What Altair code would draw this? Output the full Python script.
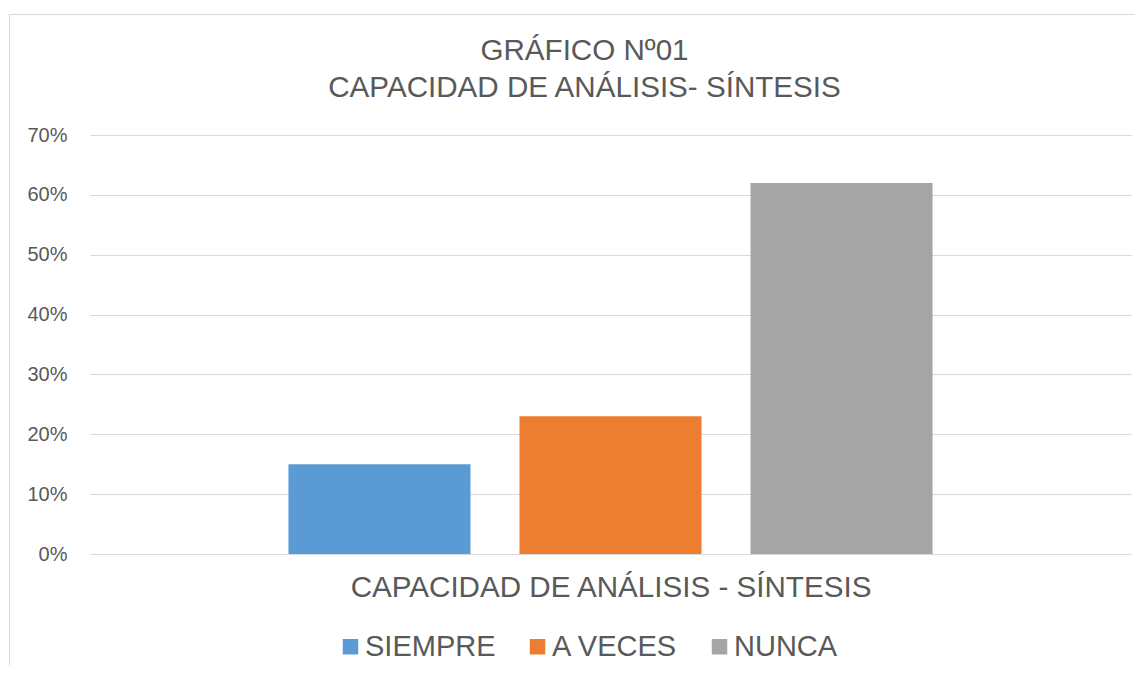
import altair as alt
import pandas as pd

categorias = ["SIEMPRE", "A VECES", "NUNCA"]
valores = [0.15, 0.23, 0.62]
colores = ["#5B9BD5", "#ED7D31", "#A5A5A5"]
ticks_y = [0.0, 0.1, 0.2, 0.3, 0.4, 0.5, 0.6, 0.7]
titulo = ["GRÁFICO Nº01", "CAPACIDAD DE ANÁLISIS- SÍNTESIS"]
titulo_x = "CAPACIDAD DE ANÁLISIS - SÍNTESIS"

df = pd.DataFrame({"serie": categorias, "valor": valores})
one = pd.DataFrame({"k": [0]})

FONT = "Liberation Sans"
TXT = "#595959"
GRID = "#D9D9D9"

bars = alt.Chart(df).mark_bar().encode(
    x=alt.X(
        "serie:N",
        sort=categorias,
        scale=alt.Scale(paddingInner=0.212, paddingOuter=0.859),
        axis=alt.Axis(
            labels=False, ticks=False, domain=False, title=titulo_x,
            titleFontSize=29.6, titleFont=FONT, titleColor=TXT,
            titleFontWeight="normal", titlePadding=19,
        ),
    ),
    y=alt.Y(
        "valor:Q",
        scale=alt.Scale(domain=[0, 0.7]),
        axis=alt.Axis(
            values=ticks_y, format=".0%", title=None, domain=False, ticks=False,
            labelFontSize=20, labelFont=FONT, labelColor=TXT, labelPadding=23,
            gridColor=GRID, gridWidth=1,
        ),
    ),
    color=alt.Color(
        "serie:N",
        sort=categorias,
        scale=alt.Scale(domain=categorias, range=colores),
        legend=alt.Legend(
            orient="none", legendX=246, legendY=497, direction="horizontal",
            title=None, symbolType="square", symbolSize=240, symbolStrokeWidth=0,
            labelFontSize=29, labelFont=FONT, labelColor=TXT, labelOffset=0,
            columnPadding=27, padding=0,
        ),
    ),
)

border_left = alt.Chart(one).mark_rule(color=GRID, strokeWidth=1).encode(
    x=alt.value(-80.5), y=alt.value(-121), y2=alt.value(530)
)
border_top = alt.Chart(one).mark_rule(color=GRID, strokeWidth=1).encode(
    x=alt.value(-81), x2=alt.value(1045), y=alt.value(-120.5)
)

chart = alt.layer(border_left, border_top, bars).properties(
    width=1041,
    height=419,
    padding={"left": 0, "top": 5, "right": 0, "bottom": 0},
    title=alt.Title(
        titulo, fontSize=29.6, font=FONT, color=TXT, fontWeight="normal",
        lineHeight=37, offset=-90, anchor="middle", frame="group", dx=-26,
    ),
).configure_view(stroke=None)

chart.save("out.html", embed_options={"renderer": "svg", "actions": False})
